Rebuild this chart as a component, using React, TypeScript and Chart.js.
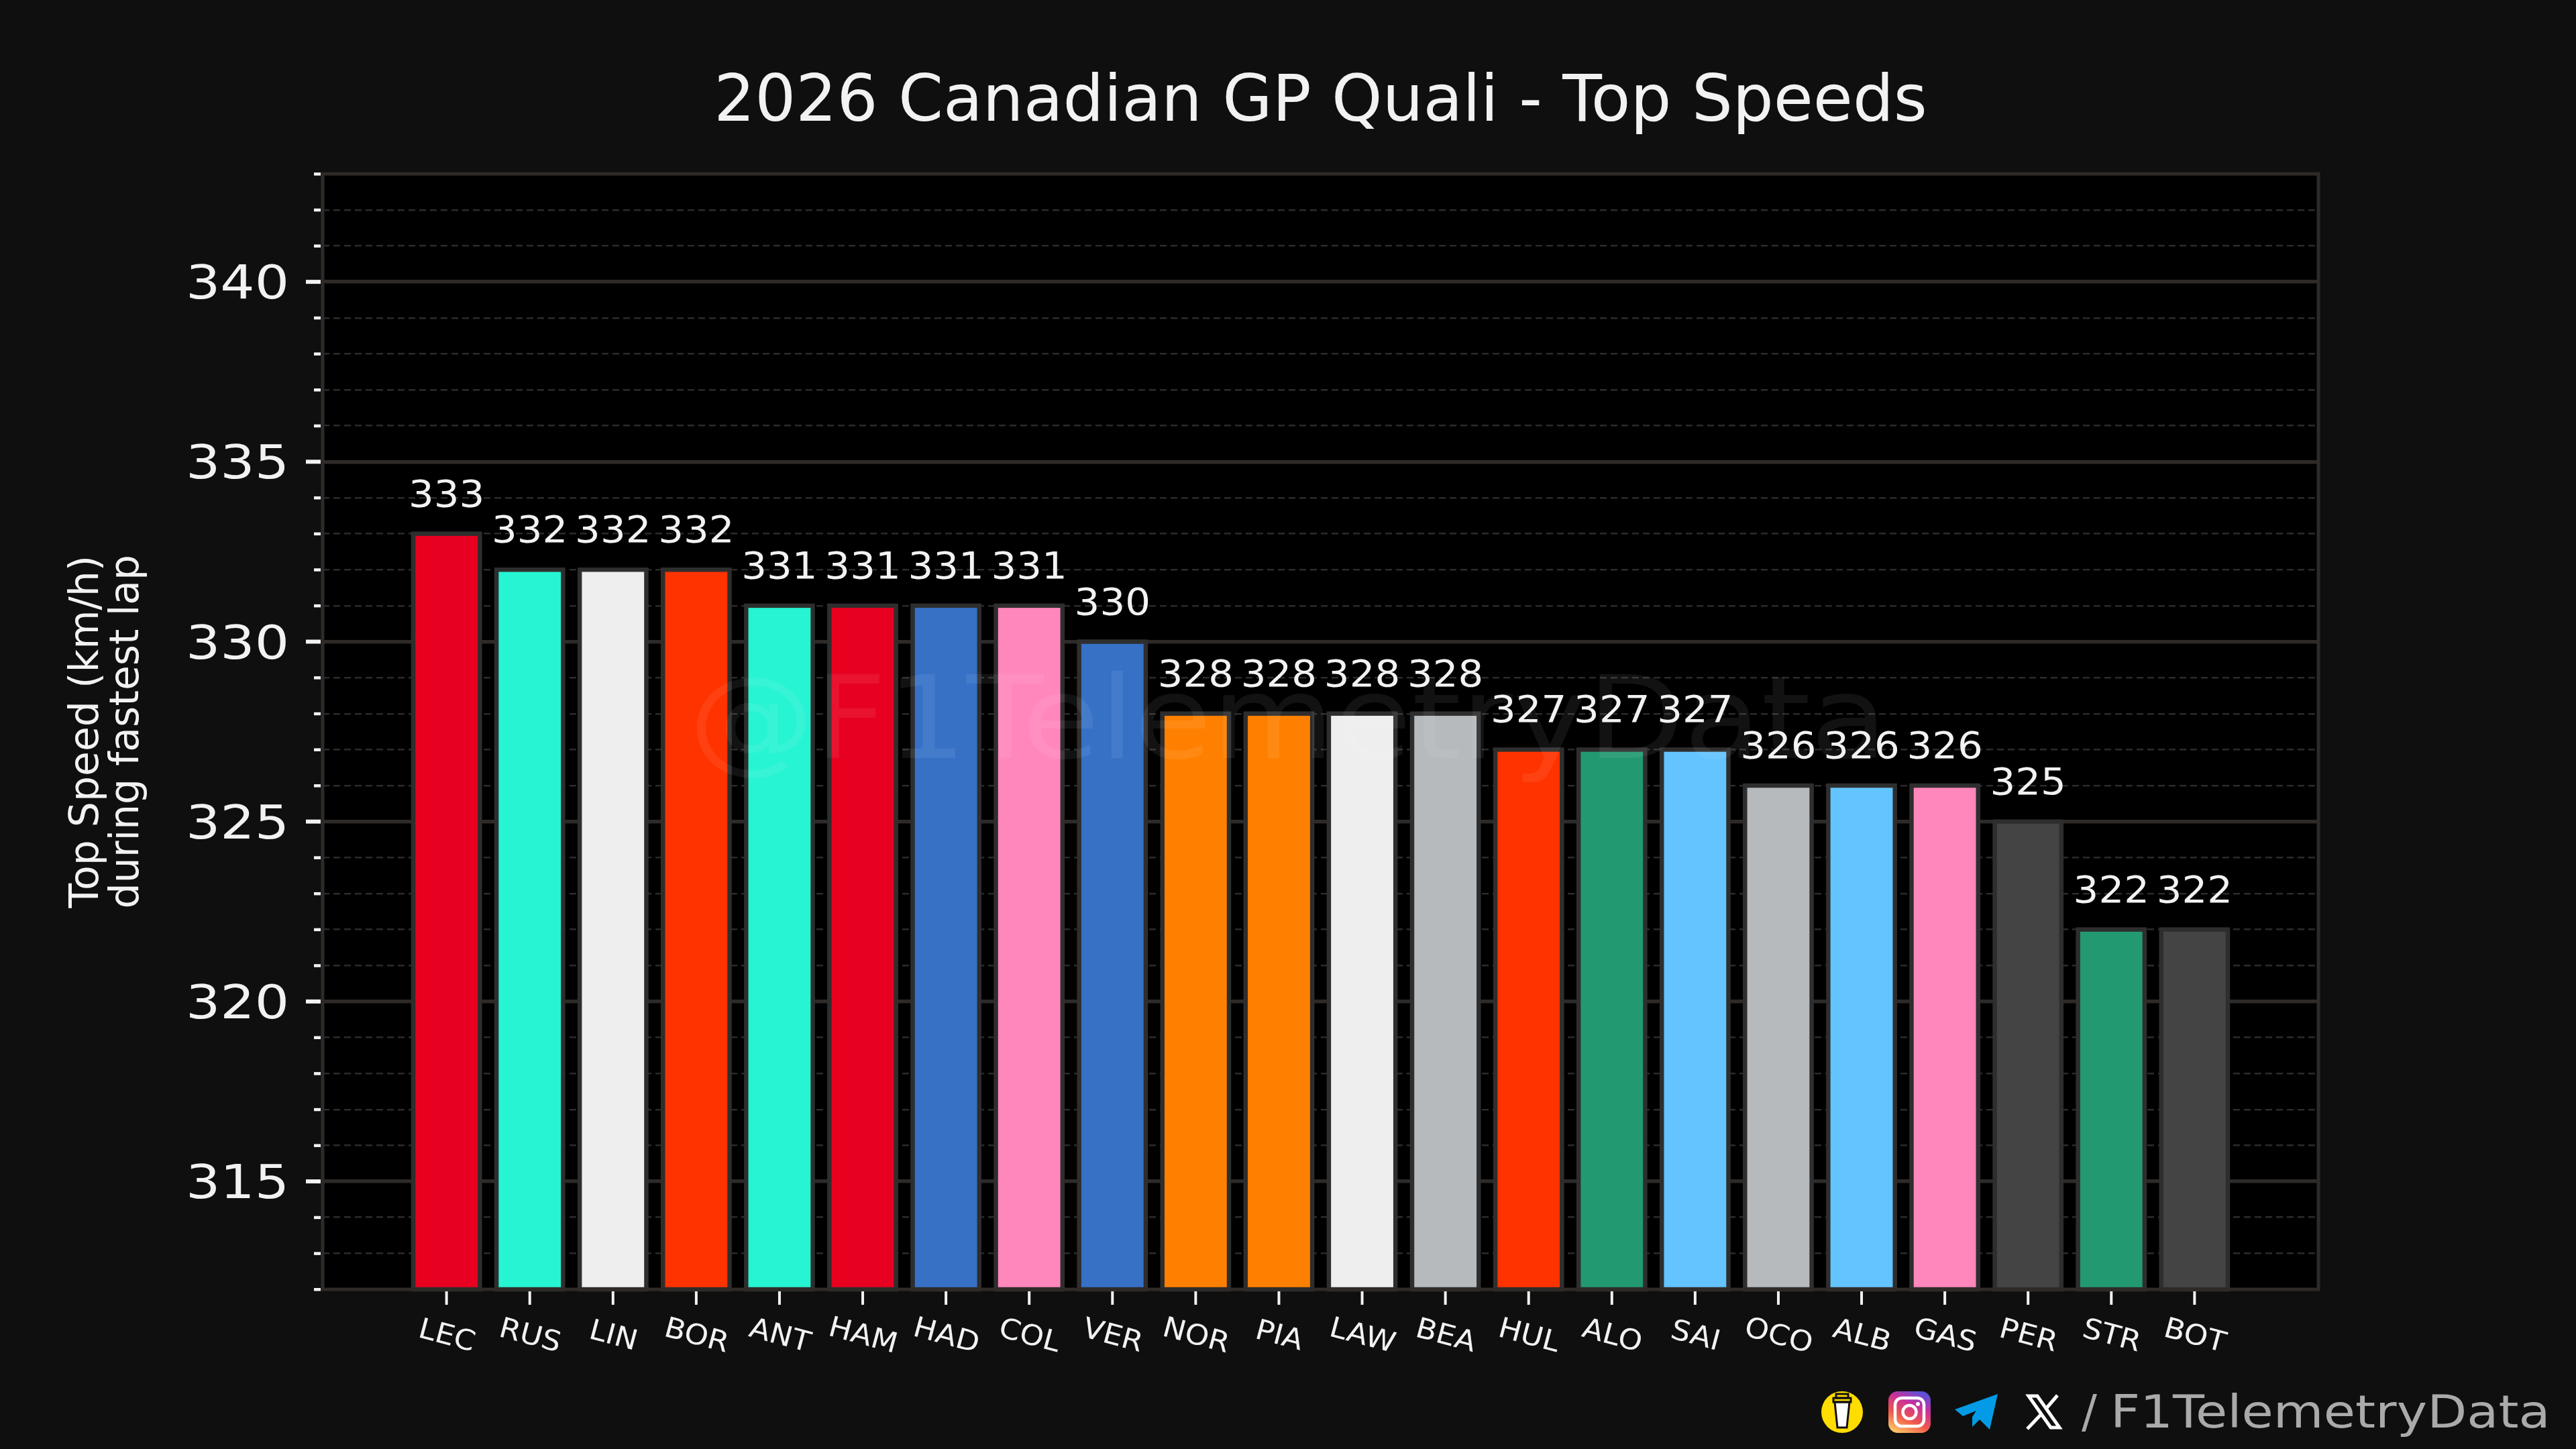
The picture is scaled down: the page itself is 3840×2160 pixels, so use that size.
import React, { useEffect, useRef } from 'react'
import { Chart, registerables } from 'chart.js'
import type { Plugin } from 'chart.js'

Chart.register(...registerables)

const drivers = ['LEC', 'RUS', 'LIN', 'BOR', 'ANT', 'HAM', 'HAD', 'COL', 'VER', 'NOR', 'PIA', 'LAW', 'BEA', 'HUL', 'ALO', 'SAI', 'OCO', 'ALB', 'GAS', 'PER', 'STR', 'BOT']
const speeds = [333, 332, 332, 332, 331, 331, 331, 331, 330, 328, 328, 328, 328, 327, 327, 327, 326, 326, 326, 325, 322, 322]
const barColors = [
  '#e80020', '#27f4d2', '#eeeeee', '#ff3300', '#27f4d2', '#e80020', '#3671c6', '#ff87bc', '#3671c6', '#ff8000', '#ff8000',
  '#eeeeee', '#b6babd', '#ff3300', '#229971', '#64c4ff', '#b6babd', '#64c4ff', '#ff87bc', '#444444', '#229971', '#444444',
]

const FONT = '"DejaVu Sans", sans-serif'
const TEXT = '#f2f2f2'
const FIG_BG = '#0f0f0f'
const SPINE = '#2e2a28'

// the reference face is wider than DejaVu, so text is stretched sideways a little
function wideText(ctx: CanvasRenderingContext2D, text: string, x: number, y: number, sx: number) {
  ctx.save()
  ctx.translate(x, y)
  ctx.scale(sx, 1)
  ctx.fillText(text, 0, 0)
  ctx.restore()
}

const decorations: Plugin<'bar'> = {
  id: 'decorations',
  beforeDraw(chart) {
    const { ctx, chartArea: a } = chart
    ctx.save()
    ctx.fillStyle = FIG_BG
    ctx.fillRect(0, 0, chart.width, chart.height)
    ctx.fillStyle = '#000000'
    ctx.fillRect(a.left, a.top, a.right - a.left, a.bottom - a.top)
    ctx.restore()
  },
  afterDatasetsDraw(chart) {
    const { ctx, chartArea: a, scales } = chart
    const meta = chart.getDatasetMeta(0)
    ctx.save()

    // bar outlines sit centred on the bar edge
    ctx.strokeStyle = '#2e2e2e'
    ctx.lineWidth = 6.5
    meta.data.forEach((el: any) => {
      ctx.strokeRect(el.x - el.width / 2, el.y, el.width, a.bottom - el.y)
    })

    // spines
    ctx.strokeStyle = SPINE
    ctx.lineWidth = 5
    ctx.strokeRect(a.left, a.top, a.right - a.left, a.bottom - a.top)

    // y tick marks, long and labelled on the major values
    ctx.fillStyle = TEXT
    ctx.font = `69px ${FONT}`
    ctx.textAlign = 'right'
    ctx.textBaseline = 'alphabetic'
    scales.y.ticks.forEach((t, i) => {
      const y = scales.y.getPixelForTick(i)
      if (t.value % 5 === 0) {
        ctx.fillRect(456, y - 3, 22, 6)
        wideText(ctx, String(t.value), 431, y + 25, 1.17)
      } else {
        ctx.fillRect(468, y - 2, 10, 4.5)
      }
    })

    // x tick marks and slanted driver codes
    scales.x.ticks.forEach((t, i) => {
      const x = scales.x.getPixelForTick(i)
      ctx.fillStyle = TEXT
      ctx.fillRect(x - 2, a.bottom + 3, 4, 20)
      ctx.save()
      ctx.translate(x, a.bottom + 71)
      ctx.rotate((15 * Math.PI) / 180)
      ctx.font = `42px ${FONT}`
      ctx.textAlign = 'center'
      ctx.textBaseline = 'middle'
      wideText(ctx, drivers[t.value], 0, 0, 1.08)
      ctx.restore()
    })

    // value labels above the bars
    ctx.fillStyle = TEXT
    ctx.font = `55px ${FONT}`
    ctx.textAlign = 'center'
    ctx.textBaseline = 'alphabetic'
    meta.data.forEach((el: any, i: number) => {
      wideText(ctx, String(speeds[i]), el.x, el.y - 41, 1.08)
    })

    // faint watermark over everything
    ctx.fillStyle = 'rgba(255,255,255,0.07)'
    ctx.font = `172px ${FONT}`
    ctx.textAlign = 'center'
    wideText(ctx, '@F1TelemetryData', 1920, 1130, 1.09)

    // footer handle and icons
    ctx.fillStyle = '#aaaaaa'
    ctx.font = `68px ${FONT}`
    ctx.textAlign = 'left'
    ctx.fillText('/', 3103, 2128)
    wideText(ctx, 'F1TelemetryData', 3146, 2128, 1.13)

    // coffee cup
    ctx.fillStyle = '#ffdd00'
    ctx.beginPath()
    ctx.arc(2746, 2105, 31, 0, Math.PI * 2)
    ctx.fill()
    ctx.fillStyle = '#ffffff'
    ctx.strokeStyle = '#111111'
    ctx.lineWidth = 3
    ctx.beginPath()
    ctx.moveTo(2735, 2090)
    ctx.lineTo(2757, 2090)
    ctx.lineTo(2753, 2128)
    ctx.lineTo(2739, 2128)
    ctx.closePath()
    ctx.fill()
    ctx.stroke()
    ctx.strokeRect(2733, 2084, 26, 6)
    ctx.strokeRect(2737, 2078, 18, 6)

    // instagram
    const ig = ctx.createLinearGradient(2830, 2136, 2860, 2074)
    ig.addColorStop(0, '#fdc468')
    ig.addColorStop(0.35, '#f0574a')
    ig.addColorStop(0.7, '#c92f9c')
    ig.addColorStop(1, '#5b51d8')
    ctx.fillStyle = ig
    ctx.beginPath()
    ctx.roundRect(2815, 2074, 63, 62, 14)
    ctx.fill()
    ctx.strokeStyle = '#ffffff'
    ctx.lineWidth = 4.5
    ctx.beginPath()
    ctx.roundRect(2825, 2084, 43, 42, 10)
    ctx.stroke()
    ctx.beginPath()
    ctx.arc(2846.5, 2105, 10, 0, Math.PI * 2)
    ctx.stroke()
    ctx.fillStyle = '#ffffff'
    ctx.beginPath()
    ctx.arc(2859, 2093, 3, 0, Math.PI * 2)
    ctx.fill()

    // telegram
    ctx.fillStyle = '#039be5'
    ctx.beginPath()
    ctx.moveTo(2978, 2078)
    ctx.lineTo(2914, 2101)
    ctx.lineTo(2926, 2111)
    ctx.lineTo(2946, 2103)
    ctx.lineTo(2940, 2112)
    ctx.lineTo(2940, 2127)
    ctx.lineTo(2951, 2116)
    ctx.lineTo(2966, 2131)
    ctx.closePath()
    ctx.fill()

    // X
    ctx.strokeStyle = '#ffffff'
    ctx.lineWidth = 5
    ctx.beginPath()
    ctx.moveTo(3024, 2081)
    ctx.lineTo(3037, 2081)
    ctx.lineTo(3070, 2128)
    ctx.lineTo(3057, 2128)
    ctx.closePath()
    ctx.stroke()
    ctx.beginPath()
    ctx.moveTo(3067, 2080)
    ctx.lineTo(3049, 2101)
    ctx.moveTo(3042, 2109)
    ctx.lineTo(3022, 2130)
    ctx.stroke()

    ctx.restore()
  },
}

export default function App() {
  const ref = useRef<HTMLCanvasElement | null>(null)

  useEffect(() => {
    if (!ref.current) return
    const chart = new Chart(ref.current, {
      type: 'bar',
      data: {
        datasets: [
          {
            data: speeds.map((y, i) => ({ x: i, y })) as any,
            backgroundColor: barColors,
            borderWidth: 0,
            barThickness: 99.3,
          },
        ],
      },
      options: {
        responsive: false,
        animation: false,
        devicePixelRatio: 1,
        layout: { padding: { left: 0, top: 0, right: 384, bottom: 238 } },
        plugins: {
          legend: { display: false },
          tooltip: { enabled: false },
          title: {
            display: true,
            text: '2026 Canadian GP Quali - Top Speeds',
            color: TEXT,
            fullSize: false,
            font: { family: FONT, size: 96, weight: 'normal' },
            padding: { top: 97, bottom: 47 },
          } as any,
        },
        scales: {
          x: {
            type: 'linear',
            offset: false,
            min: -1.488,
            max: 22.488,
            afterBuildTicks: (axis) => {
              axis.ticks = drivers.map((_, i) => ({ value: i }))
            },
            ticks: { display: false },
            grid: { display: false },
            border: { display: false },
            afterFit: (axis) => {
              axis.height = 0
            },
          },
          y: {
            min: 312,
            max: 343,
            ticks: {
              display: false,
              stepSize: 1,
              autoSkip: false,
            },
            grid: {
              drawTicks: false,
              color: (c) => (c.tick.value % 5 === 0 ? SPINE : '#2b2b2b'),
              lineWidth: (c) => (c.tick.value % 5 === 0 ? 5.5 : 2.5),
            },
            border: {
              display: false,
              dash: (c) => (c.tick.value % 5 === 0 ? [] : [10, 6]),
            } as any,
            title: {
              display: true,
              text: ['Top Speed (km/h)', 'during fastest lap'],
              color: TEXT,
              font: { family: FONT, size: 60, weight: 'normal', lineHeight: 1 },
              padding: { top: 100, bottom: 0 },
            },
            afterFit: (axis) => {
              axis.width = 481
            },
          },
        },
      },
      plugins: [decorations],
    })
    return () => chart.destroy()
  }, [])

  return (
    <div style={{ position: 'fixed', left: 0, top: 0, width: 3840, height: 2160, background: FIG_BG }}>
      <canvas ref={ref} width={3840} height={2160} style={{ display: 'block', width: 3840, height: 2160 }} />
    </div>
  )
}
